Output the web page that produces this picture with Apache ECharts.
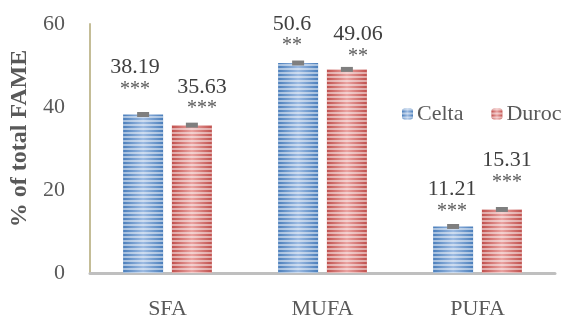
<!DOCTYPE html>
<html>
<head>
<meta charset="utf-8">
<script src="https://cdn.jsdelivr.net/npm/echarts@6/dist/echarts.min.js"></script>
<style>
  html, body { margin: 0; padding: 0; background: #fff; }
  #chart { width: 569px; height: 320px; }
</style>
</head>
<body>
<div id="chart"></div>
<script>
// Fatty-acid groups and their share of total FAME for each breed
const categories = ['SFA', 'MUFA', 'PUFA'];
const celta = [38.19, 50.6, 11.21];
const duroc = [35.63, 49.06, 15.31];
const celtaStars = ['***', '**', '***'];
const durocStars = ['***', '**', '***'];
const errHalf = 0.6;           // half-height of the small error caps
const yTicks = [0, 20, 40, 60];

// Hand-placed label nudges (px) for each bar
const celtaLabelShift = [[-8, -1], [-6, 7], [-1, 9]];
const durocLabelShift = [[10, 8], [11, 11], [5, -3]];

const serif = '"Liberation Serif", "Times New Roman", serif';

function barFill(edge, mid) {
  return {
    type: 'linear', x: 0, y: 0, x2: 1, y2: 0,
    colorStops: [
      { offset: 0, color: edge },
      { offset: 0.5, color: mid },
      { offset: 1, color: edge }
    ]
  };
}

const stripes = {
  symbol: 'rect',
  symbolSize: 1,
  dashArrayX: [1, 0],
  dashArrayY: [2, 2],
  rotation: 0,
  color: 'rgba(255,255,255,0.5)'
};

function labelFor(stars) {
  return {
    show: true,
    position: 'top',
    distance: 13,
    fontFamily: serif,
    fontSize: 22,
    color: '#404040',
    lineHeight: 22,
    formatter: p => p.value + '\n{s|' + stars[p.dataIndex] + '}',
    rich: { s: { fontFamily: serif, fontSize: 20, color: '#595959', lineHeight: 22 } }
  };
}

function barData(values, shifts) {
  return values.map((v, i) => ({ value: v, label: { offset: shifts[i] } }));
}

// Error caps drawn on top of each bar via the axis scales
function capSeries(values, side) {
  return {
    type: 'custom',
    z: 5,
    silent: true,
    data: values.map((v, i) => [i, v]),
    renderItem: (params, api) => {
      const idx = api.value(0);
      const v = api.value(1);
      const bandW = api.size([1, 0])[0];
      const barW = bandW * 0.258;
      const gap = barW * 0.22;
      const center = api.coord([idx, v]);
      const offset = side * (barW + gap) / 2;
      const top = api.coord([idx, v + errHalf])[1];
      const bot = api.coord([idx, v - errHalf])[1];
      return {
        type: 'rect',
        shape: { x: center[0] + offset - 6, y: top, width: 12, height: bot - top },
        style: { fill: '#7f7f7f' }
      };
    }
  };
}

const chart = echarts.init(document.getElementById('chart'), null, { renderer: 'canvas' });
chart.setOption({
  animation: false,
  backgroundColor: '#ffffff',
  grid: { left: 90, right: 14, top: 24, bottom: 47, containLabel: false },
  legend: {
    data: ['Celta', 'Duroc'],
    left: 397,
    top: 98,
    itemWidth: 11,
    itemHeight: 11,
    itemGap: 28,
    textStyle: { fontFamily: serif, fontSize: 22, color: '#595959', padding: [0, 0, 0, -1] }
  },
  xAxis: {
    type: 'category',
    data: categories,
    axisLine: { lineStyle: { color: '#bfbfbf', width: 3 } },
    axisTick: { show: false },
    axisLabel: { fontFamily: serif, fontSize: 22, color: '#595959', margin: 25 }
  },
  yAxis: {
    type: 'value',
    min: yTicks[0],
    max: yTicks[yTicks.length - 1],
    interval: 20,
    name: '% of total FAME',
    nameLocation: 'middle',
    nameGap: 49,
    nameTextStyle: { fontFamily: serif, fontSize: 24, fontWeight: 'bold', color: '#595959', padding: [0, 0, 0, 20] },
    axisLine: { show: true, lineStyle: { color: '#c4bd97', width: 2 } },
    axisTick: { show: false },
    splitLine: { show: false },
    axisLabel: { fontFamily: serif, fontSize: 22, color: '#595959', margin: 25 }
  },
  series: [
    {
      name: 'Celta',
      type: 'bar',
      data: barData(celta, celtaLabelShift),
      barWidth: '25.8%',
      barGap: '22%',
      itemStyle: { color: barFill('#4a7ebb', '#9dbbe2'), decal: stripes },
      label: labelFor(celtaStars)
    },
    {
      name: 'Duroc',
      type: 'bar',
      data: barData(duroc, durocLabelShift),
      barWidth: '25.8%',
      barGap: '22%',
      itemStyle: { color: barFill('#c0504d', '#eaa3a1'), decal: stripes },
      label: labelFor(durocStars)
    },
    capSeries(celta, -1),
    capSeries(duroc, 1)
  ]
});
</script>
</body>
</html>
